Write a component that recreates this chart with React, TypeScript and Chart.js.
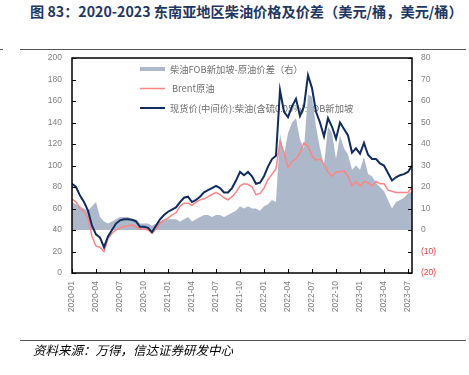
import React, { useEffect, useRef } from 'react';
import { Chart, registerables } from 'chart.js';
Chart.register(...registerables);

// Quarter tick labels (x axis)
const QUARTERS = ['2020-01','2020-04','2020-07','2020-10','2021-01','2021-04','2021-07','2021-10','2022-01','2022-04','2022-07','2022-10','2023-01','2023-04','2023-07'];

// Semi-monthly samples from 2020-01 to 2023-07 (USD/bbl)
const DIESEL = [
  83,80,72,66,58,44,36,33,24,34,
  40,46,49,50,50,49.5,48,43,43,42,
  38,44,50,54,57,59,61,66,70,71,
  66,68,71,75,77,79,81,79,75,75,
  79,86,94,91,94,90,83,84,90,99,
  106,109,170,150,145,155,162,146,155,184,
  172,150,140,127,144,136,125,140,134,128,
  112,116,111,121,110,106,106,102,100,93,
  86,89,91,92,94,100,
];
const BRENT = [
  69,66,60,57,51,34,25,24,20,32,
  37,40,42,43,44,44.6,43,41,41,40,
  37,41,46,49,51,54,56,62,65,65,
  63,66,68,69,71,73,75,73,70,68,
  71,75,81,83,82.5,80,73,74,79,87,
  92,97,122,112,98,104,106,112,121,118,
  109,105,106,101,94,90,94,94,95,90,
  81,85,81,85,84,81,85,83,83,77,
  76,75,75,75,75,80,
];
// Spread (right axis)
const SPREAD = [
  13,12,11,10,9,11,13,6,4,3,
  4,5,6,6,6,5,5,3,3,3,
  2,3,4,5,5,5,5,4,5,6,
  4,5,6,7,7,6,7,7,6,7,
  8,9,11,10,11,10,10,9,11,12,
  14,13,45,35,45,50,52,42,38,63,
  62,48,38,30,48,45,33,44,38,35,
  28,30,28,34,26,25,22,20,18,14,
  10,13,14,15,17,18,
];

const LEGEND_LABELS = ['柴油FOB新加坡-原油价差（右）', 'Brent原油', '现货价(中间价):柴油(含硫0.05%):FOB新加坡'];

const NAVY = '#0f2b5f';
const PINK = '#ff8484';
const AREA = '#adb9ca';
const TICK_COLOR = '#808080';

const toPts = (arr: number[]) => arr.map((v, i) => ({ x: i * 0.5, y: v }));

const decor = {
  id: 'decor',
  beforeDatasetsDraw(chart: any) {
    const ctx = chart.ctx;
    ctx.save();
    ctx.font = '9.3px "Noto Sans CJK SC", sans-serif';
    ctx.textBaseline = 'middle';
    ctx.fillStyle = AREA;
    ctx.fillRect(140, 67, 25, 4);
    ctx.fillStyle = '#6f6f6f';
    ctx.fillText(LEGEND_LABELS[0], 170, 69);
    ctx.strokeStyle = PINK;
    ctx.lineWidth = 1.5;
    ctx.beginPath(); ctx.moveTo(140, 88.5); ctx.lineTo(165, 88.5); ctx.stroke();
    ctx.fillText(LEGEND_LABELS[1], 172, 88.5);
    ctx.strokeStyle = NAVY;
    ctx.lineWidth = 2;
    ctx.beginPath(); ctx.moveTo(140, 108); ctx.lineTo(165, 108); ctx.stroke();
    ctx.fillText(LEGEND_LABELS[2], 170, 108);
    ctx.restore();
  },
  afterDatasetsDraw(chart: any) {
    const ctx = chart.ctx;
    const { left, right, top, bottom } = chart.chartArea;
    const xs = chart.scales.x, y = chart.scales.y, y2 = chart.scales.y2;
    ctx.save();
    ctx.strokeStyle = '#000';
    ctx.lineWidth = 1.5;
    ctx.strokeRect(left, top, right - left, bottom - top);
    ctx.lineWidth = 1;
    ctx.beginPath();
    QUARTERS.forEach((_, k) => {
      const px = Math.round(xs.getPixelForValue(k * 3)) + 0.5;
      ctx.moveTo(px, bottom); ctx.lineTo(px, bottom - 4);
    });
    for (let v = 0; v <= 200; v += 20) {
      const py = Math.round(y.getPixelForValue(v)) + 0.5;
      ctx.moveTo(left, py); ctx.lineTo(left + 4, py);
    }
    for (let v = -20; v <= 80; v += 10) {
      const py = Math.round(y2.getPixelForValue(v)) + 0.5;
      ctx.moveTo(right, py); ctx.lineTo(right - 4, py);
    }
    ctx.stroke();
    ctx.restore();
  },
};

export default function App() {
  const ref = useRef<HTMLCanvasElement>(null);
  useEffect(() => {
    const tickFont = { family: '"Liberation Sans", Arial, sans-serif', size: 8.5 };
    const chart = new Chart(ref.current!, {
      type: 'line',
      data: {
        datasets: [
          { label: LEGEND_LABELS[2], data: toPts(DIESEL), borderColor: NAVY, borderWidth: 2, pointRadius: 0, yAxisID: 'y', order: 0, fill: false },
          { label: LEGEND_LABELS[1], data: toPts(BRENT), borderColor: PINK, borderWidth: 1.5, pointRadius: 0, yAxisID: 'y', order: 1, fill: false },
          { label: LEGEND_LABELS[0], data: toPts(SPREAD), borderColor: AREA, backgroundColor: AREA, borderWidth: 0, pointRadius: 0, yAxisID: 'y2', order: 2, fill: 'origin' },
        ],
      },
      options: {
        responsive: false,
        animation: false,
        devicePixelRatio: 1,
        layout: { padding: { top: 58, left: 0, right: 0, bottom: 0 } },
        plugins: { legend: { display: false }, tooltip: { enabled: false } },
        elements: { line: { tension: 0 } },
        scales: {
          x: {
            type: 'linear', min: 0, max: 42.5,
            grid: { display: false, drawTicks: false },
            border: { display: false },
            afterBuildTicks: (s: any) => { s.ticks = QUARTERS.map((_, k) => ({ value: k * 3 })); },
            afterFit: (s: any) => { s.height = 102; },
            ticks: {
              autoSkip: false, minRotation: 90, maxRotation: 90, padding: 8,
              color: TICK_COLOR, font: tickFont,
              callback: (v: any) => QUARTERS[Math.round(v / 3)] ?? '',
            },
          },
          y: {
            position: 'left', min: 0, max: 200,
            grid: { display: false, drawTicks: false },
            border: { display: false },
            afterFit: (s: any) => { s.width = 72; },
            ticks: { stepSize: 20, padding: 10, color: TICK_COLOR, font: tickFont },
          },
          y2: {
            position: 'right', min: -20, max: 80,
            grid: { display: false, drawTicks: false },
            border: { display: false },
            afterFit: (s: any) => { s.width = 57; },
            ticks: {
              stepSize: 10, padding: 9, font: tickFont,
              color: (c: any) => (c.tick && c.tick.value < 0 ? '#f23c3c' : TICK_COLOR),
              callback: (v: any) => (v < 0 ? `(${-v})` : `${v}`),
            },
          },
        },
      },
      plugins: [decor],
    } as any);
    return () => chart.destroy();
  }, []);

  return (
    <div style={{ position: 'fixed', left: 0, top: 0, width: 469, height: 375, background: '#fff', overflow: 'hidden' }}>
      <div style={{ position: 'absolute', left: 30, top: 2, whiteSpace: 'nowrap', fontFamily: '"Noto Sans CJK SC", sans-serif', fontWeight: 'bold', fontSize: 14.2, lineHeight: '18px', color: '#1f3763' }}>
        图 83：2020-2023 东南亚地区柴油价格及价差（美元/桶，美元/桶）
      </div>
      <div style={{ position: 'absolute', left: 0, top: 49, width: 3, height: 1, background: '#555' }} />
      <div style={{ position: 'absolute', left: 20, top: 49, width: 446, height: 1, background: '#555' }} />
      <canvas ref={ref} width={469} height={375} style={{ position: 'absolute', left: 0, top: 0, width: 469, height: 375 }} />
      <div style={{ position: 'absolute', left: 20, top: 340, width: 446, height: 1, background: '#555' }} />
      <div style={{ position: 'absolute', left: 33, top: 342, whiteSpace: 'nowrap', fontFamily: '"Noto Sans CJK SC", sans-serif', fontStyle: 'italic', fontSize: 12.5, lineHeight: '16px', color: '#000' }}>
        资料来源：万得，信达证券研发中心
      </div>
    </div>
  );
}
